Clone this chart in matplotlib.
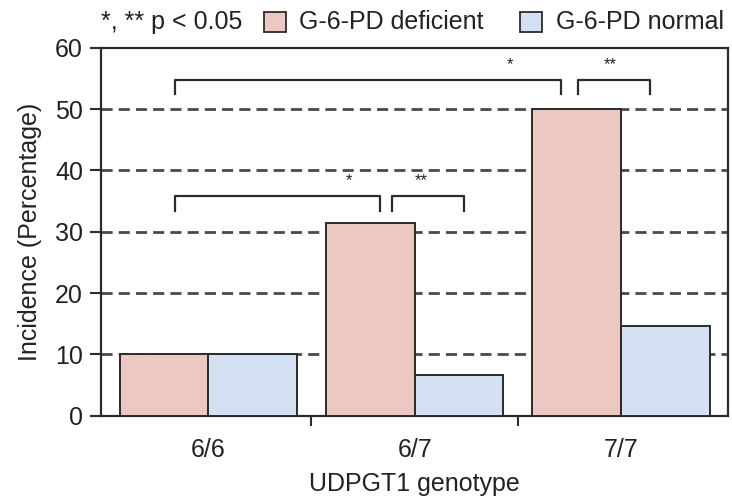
import numpy as np
import matplotlib
matplotlib.use("Agg")
import matplotlib.pyplot as plt
from matplotlib.patches import Rectangle

plt.rcParams['font.family'] = ['Liberation Sans', 'DejaVu Sans']

genotypes = ['6/6', '6/7', '7/7']
deficient = [10.0, 31.5, 50.0]
normal = [10.0, 6.7, 14.7]
series_names = ['G-6-PD deficient', 'G-6-PD normal']

pink = '#edc7c1'
blue = '#d3e1f2'
edge = '#2b2b2b'
txt = '#222222'
fs = 18

fig = plt.figure(figsize=(7.32, 4.98), dpi=100)
ax = fig.add_axes([0.138, 0.165, 0.857, 0.739])

x = np.arange(len(genotypes))
w = 0.43
ax.bar(x - w / 2, deficient, w, color=pink, edgecolor=edge, linewidth=1.4, zorder=3)
ax.bar(x + w / 2, normal, w, color=blue, edgecolor=edge, linewidth=1.4, zorder=3)

ax.set_xlim(-0.52, 2.52)
ax.set_ylim(0, 60)
ax.set_yticks([0, 10, 20, 30, 40, 50, 60])
for v in [10, 20, 30, 40, 50]:
    ax.axhline(v, color='#4a4a4a', lw=2, ls=(0, (4, 2.2)), zorder=1)

# group labels centred, ticks only between groups
ax.set_xticks(x)
ax.set_xticklabels(genotypes, fontsize=fs, color=txt)
ax.tick_params(axis='x', length=0, pad=16)
ax.set_xticks([0.5, 1.5], minor=True)
ax.tick_params(axis='x', which='minor', length=7, width=1.5, direction='out', color=edge)
ax.tick_params(axis='y', length=8, width=1.5, pad=5, labelsize=fs, color=edge, labelcolor=txt)

for s in ax.spines.values():
    s.set_linewidth(1.6)
    s.set_color(edge)

ax.set_xlabel('UDPGT1 genotype', fontsize=fs, labelpad=7, color=txt)
ax.set_ylabel('Incidence (Percentage)', fontsize=fs, labelpad=9, color=txt)


def bracket(x0, x1, y0, y1, label, lx):
    ax.plot([x0, x0, x1, x1], [y0, y1, y1, y0], color=edge, lw=1.6, zorder=4, clip_on=False)
    ax.text(lx, y1 + 1.3, label, ha='center', va='bottom', fontsize=12, zorder=4, color=txt)


bracket(-0.16, 0.83, 33.4, 35.8, '*', 0.68)
bracket(0.89, 1.24, 33.4, 35.8, '**', 1.03)
bracket(-0.16, 1.71, 52.4, 54.8, '*', 1.46)
bracket(1.79, 2.14, 52.4, 54.8, '**', 1.95)

# legend line above the frame
ty = 64.2
ax.text(-0.52, ty, '*, ** p < 0.05', fontsize=fs, va='center', ha='left', clip_on=False, color=txt)
ax.add_patch(Rectangle((0.27, 62.6), 0.105, 3.2, facecolor=pink, edgecolor=edge,
                       lw=1.3, clip_on=False))
ax.text(0.44, ty, series_names[0], fontsize=fs, va='center', ha='left', clip_on=False, color=txt)
ax.add_patch(Rectangle((1.51, 62.6), 0.105, 3.2, facecolor=blue, edgecolor=edge,
                       lw=1.3, clip_on=False))
ax.text(1.685, ty, series_names[1], fontsize=fs, va='center', ha='left', clip_on=False, color=txt)

fig.savefig('out.png', dpi=100)
